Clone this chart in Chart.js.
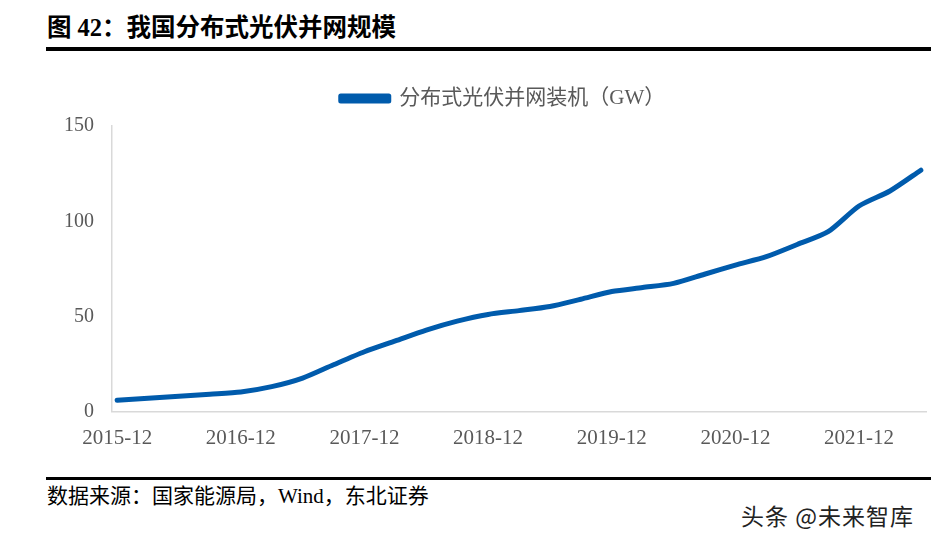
<!DOCTYPE html>
<html>
<head>
<meta charset="utf-8">
<script src="https://cdn.jsdelivr.net/npm/chart.js@4"></script>
<style>
  html, body { margin:0; padding:0; background:#fff; }
  body { width:931px; height:540px; position:relative; overflow:hidden; }
  #title { position:absolute; left:47px; top:12px; font-family:"Liberation Serif","Noto Sans CJK SC",serif; font-weight:bold; font-size:24.5px; color:#000; white-space:nowrap; line-height:32px; }
  #rule1 { position:absolute; left:46px; top:47px; width:885px; height:4px; background:#000; }
  #rule2 { position:absolute; left:46px; top:477px; width:885px; height:3px; background:#000; }
  #source { position:absolute; left:47px; top:483px; font-family:"Liberation Serif","Noto Sans CJK SC",serif; font-size:21px; color:#000; white-space:nowrap; line-height:26px; }
  #wm { position:absolute; left:741px; top:499px; font-family:"Noto Sans CJK SC",sans-serif; font-size:23px; letter-spacing:1px; color:#222; white-space:nowrap; line-height:32px; }
  #wrap { position:absolute; left:0; top:60px; width:931px; height:410px; }
</style>
</head>
<body>
<div id="title">图 42：我国分布式光伏并网规模</div>
<div id="rule1"></div>
<div id="wrap"><canvas id="c"></canvas></div>
<div id="rule2"></div>
<div id="source">数据来源：国家能源局，Wind，东北证券</div>
<div id="wm">头条 @未来智库</div>
<script>
const seriesName = '分布式光伏并网装机（GW）';
const quarters = ['2015-12','2016-03','2016-06','2016-09','2016-12','2017-03','2017-06','2017-09','2017-12',
  '2018-03','2018-06','2018-09','2018-12','2019-03','2019-06','2019-09','2019-12','2020-03','2020-06','2020-09',
  '2020-12','2021-03','2021-06','2021-09','2021-12','2022-03','2022-06'];
const capacity = [6.0, 7.1, 8.1, 9.2, 10.4, 13.2, 17.7, 24.7, 31.5,
  37.2, 42.9, 47.6, 51.1, 53.1, 55.3, 59.1, 63.1, 65.2, 67.4, 72.2,
  77.0, 81.4, 87.8, 94.5, 108.0, 115.9, 126.8];
const tickLabels = ['2015-12','2016-12','2017-12','2018-12','2019-12','2020-12','2021-12'];
const yTicks = [0, 50, 100, 150];

const startKey = 2015 * 12 + 12;
function monthIndex(s) { const [y, m] = s.split('-').map(Number); return y * 12 + m - startKey; }
const points = quarters.map((q, i) => ({ x: monthIndex(q), y: capacity[i] }));
const tickPositions = tickLabels.map(monthIndex);
const lastIndex = monthIndex('2022-06');

const legendTweak = {
  id: 'legendTweak',
  beforeInit(chart) {
    const fit = chart.legend.fit;
    chart.legend.fit = function () { fit.bind(chart.legend)(); this.height += 7; };
  },
  afterLayout(chart) {
    chart.legend.left += 40;
    chart.legend.right += 40;
  }
};

const blue = '#005BAC';
new Chart(document.getElementById('c'), {
  type: 'line',
  data: {
    datasets: [{
      label: seriesName,
      data: points,
      borderColor: blue,
      backgroundColor: blue,
      borderWidth: 5,
      pointRadius: 0,
      tension: 0.25,
      borderCapStyle: 'round',
      borderJoinStyle: 'round'
    }]
  },
  options: {
    responsive: true,
    maintainAspectRatio: false,
    animation: false,
    layout: { padding: { top: 18, right: 5, left: 0, bottom: 5 } },
    plugins: {
      legend: {
        display: true,
        position: 'top',
        labels: {
          boxWidth: 48, boxHeight: 5, padding: 10,
          color: '#595959',
          font: { family: '"Liberation Serif","Noto Sans CJK SC",serif', size: 21 }
        }
      },
      tooltip: { enabled: false }
    },
    scales: {
      x: {
        type: 'linear',
        min: -0.5,
        max: lastIndex + 0.5,
        grid: { display: false, drawTicks: false },
        border: { display: true, color: '#d9d9d9', width: 1.5 },
        afterBuildTicks(scale) { scale.ticks = tickPositions.map(v => ({ value: v })); },
        ticks: {
          autoSkip: false,
          maxRotation: 0,
          padding: 14,
          color: '#595959',
          font: { family: '"Liberation Serif",serif', size: 21 },
          callback: (v) => tickLabels[tickPositions.indexOf(v)] || ''
        }
      },
      y: {
        min: 0, max: 150,
        afterBuildTicks(scale) { scale.ticks = yTicks.map(v => ({ value: v })); },
        afterFit(scale) { scale.width = 112; },
        grid: { display: false, drawTicks: false },
        border: { display: true, color: '#d9d9d9', width: 1.5 },
        ticks: {
          padding: 18,
          color: '#595959',
          font: { family: '"Liberation Serif",serif', size: 20 }
        }
      }
    }
  },
  plugins: [legendTweak]
});
</script>
</body>
</html>
